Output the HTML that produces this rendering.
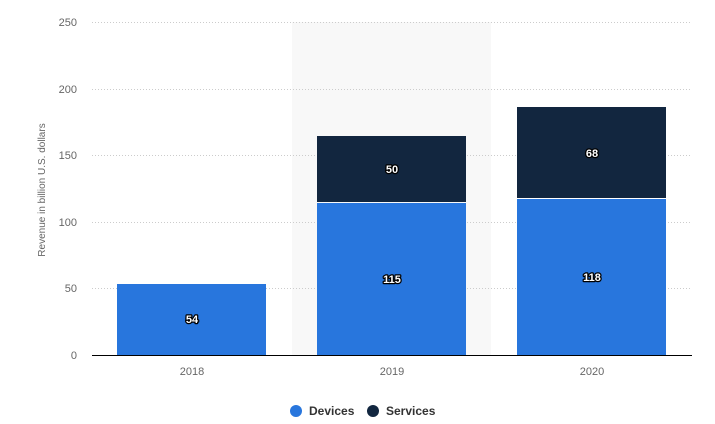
<!DOCTYPE html>
<html><head><meta charset="utf-8"><style>
body{margin:0;background:#fff;}
svg{display:block;font-family:"Liberation Sans",sans-serif;}
.t{font-size:11px;fill:#666;}
.v{font-size:11px;font-weight:bold;fill:#fff;stroke:#000;stroke-width:2.5px;paint-order:stroke;stroke-linejoin:round;}
</style></head><body>
<svg width="715" height="424" viewBox="0 0 715 424">
<rect x="292" y="22" width="199" height="333" fill="#f8f8f8"/>
<g stroke="#ccc" stroke-dasharray="1,2" stroke-width="1">
<line x1="92" y1="22.5" x2="692" y2="22.5"/>
<line x1="92" y1="89.5" x2="692" y2="89.5"/>
<line x1="92" y1="155.5" x2="692" y2="155.5"/>
<line x1="92" y1="222.5" x2="692" y2="222.5"/>
<line x1="92" y1="288.5" x2="692" y2="288.5"/>
</g>
<g class="t" text-anchor="end">
<text x="77" y="26">250</text><text x="77" y="93">200</text><text x="77" y="159">150</text>
<text x="77" y="226">100</text><text x="77" y="292">50</text><text x="77" y="359">0</text>
</g>
<text class="t" font-size="10" transform="translate(45,190) rotate(-90)" text-anchor="middle" style="font-size:10px">Revenue in billion U.S. dollars</text>
<rect x="117" y="284" width="149" height="71" fill="#2876dd"/>
<rect x="317" y="203" width="149" height="152" fill="#2876dd"/>
<rect x="317" y="136" width="149" height="66" fill="#12263f"/>
<rect x="517" y="199" width="149" height="156" fill="#2876dd"/>
<rect x="517" y="107" width="149" height="91" fill="#12263f"/>
<line x1="92" y1="355.5" x2="692" y2="355.5" stroke="#000"/>
<g class="v" text-anchor="middle">
<text x="192" y="323">54</text><text x="392" y="283">115</text><text x="392" y="173">50</text>
<text x="592" y="281">118</text><text x="592" y="157">68</text>
</g>
<g class="t" text-anchor="middle">
<text x="192" y="375">2018</text><text x="392" y="375">2019</text><text x="592" y="375">2020</text>
</g>
<circle cx="296" cy="411" r="6" fill="#2876dd"/>
<text x="309" y="415" style="font-size:12px;font-weight:bold;fill:#333">Devices</text>
<circle cx="373" cy="411" r="6" fill="#12263f"/>
<text x="386" y="415" style="font-size:12px;font-weight:bold;fill:#333">Services</text>
</svg>
</body></html>
